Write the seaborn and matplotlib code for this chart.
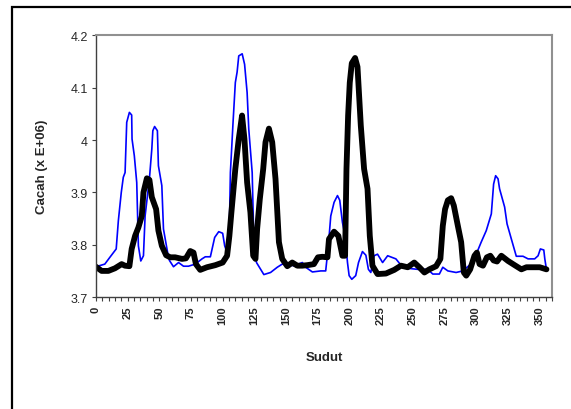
import pandas as pd
import numpy as np
import matplotlib
matplotlib.use("Agg")
import matplotlib.pyplot as plt
from matplotlib.patches import Rectangle
from matplotlib.ticker import MultipleLocator
import seaborn as sns

# Data (angle in degrees, count x 1e6)
sudut_biru = [0, 7, 11, 16, 17.7, 20, 21.6, 23, 24.3, 26.4, 28.2, 28.5, 30.3, 32.2, 33.5, 35.4,
              37.5, 38.8, 42.2, 44.1, 44.9, 46.3, 48.5, 49.3, 52, 53.3, 56.5, 58, 61.2, 65.2,
              69.1, 73, 78.4, 83.7, 86.3, 90.3, 93.7, 96.9, 100, 101.6, 103.5, 105, 106.1,
              108.2, 110, 111.4, 112.7, 115.4, 117.3, 119.3, 120.6, 123.3, 124.5, 126.7,
              132.5, 137.8, 143.1, 147, 156.3, 162.9, 165.5, 170.8, 177.4, 181.3, 183.4,
              185.3, 187.9, 190.6, 192.4, 194.5, 196.6, 198.5, 199.8, 201.9, 205, 207.2,
              210.3, 213, 215, 216.9, 219.5, 222.2, 226.2, 230.2, 236.7, 240.7, 246, 253.9,
              261.8, 265.8, 271, 273.7, 277.7, 284.2, 289.5, 294.8, 300.1, 304, 308, 312,
              313.8, 315.4, 317.3, 318.5, 322.5, 324.4, 327.8, 331.7, 337, 341, 346.2,
              348.9, 350.7, 353.4, 354.2, 355.5]
cacah_biru = [3.758, 3.763, 3.776, 3.792, 3.846, 3.900, 3.929, 3.938, 4.034, 4.053, 4.048, 4.002,
              3.970, 3.919, 3.798, 3.769, 3.779, 3.855, 3.926, 3.983, 4.018, 4.026, 4.018,
              3.951, 3.913, 3.830, 3.786, 3.770, 3.758, 3.766, 3.759, 3.759, 3.763, 3.773,
              3.777, 3.777, 3.814, 3.825, 3.822, 3.798, 3.785, 3.790, 3.938, 4.034, 4.110,
              4.130, 4.161, 4.165, 4.145, 4.091, 4.021, 3.938, 3.817, 3.766, 3.743, 3.747,
              3.757, 3.763, 3.760, 3.766, 3.757, 3.748, 3.750, 3.750, 3.798, 3.855, 3.881,
              3.894, 3.885, 3.843, 3.817, 3.766, 3.741, 3.734, 3.741, 3.766, 3.787, 3.780,
              3.753, 3.747, 3.779, 3.782, 3.766, 3.779, 3.773, 3.761, 3.755, 3.753, 3.753,
              3.744, 3.744, 3.757, 3.750, 3.747, 3.750, 3.761, 3.782, 3.805, 3.827, 3.859,
              3.916, 3.932, 3.926, 3.907, 3.872, 3.840, 3.811, 3.778, 3.778, 3.773, 3.773,
              3.779, 3.792, 3.790, 3.773, 3.753]

sudut_hitam = [0, 4.5, 9.8, 15, 20.3, 22.9, 26.4, 28.2, 30.9, 33.5, 36.2, 37.5, 40.2, 42.2, 44.1,
               47.5, 49.3, 52, 55.4, 58.6, 62.5, 67.9, 71, 74.4, 77, 78.9, 82.3, 87.6, 94.2,
               100, 103.5, 105.3, 106.9, 110, 112.7, 115.3, 117.2, 119.3, 121.9, 124.1,
               125.9, 127.2, 129.3, 132, 133.8, 136.5, 139.1, 141.7, 144.4, 147, 151, 154.9,
               158.9, 162.8, 166.8, 172, 175.2, 178.7, 182.7, 183.9, 187.9, 191.3, 194.5,
               196.6, 197.7, 199, 200.3, 201.9, 204.5, 206.4, 209, 211.6, 214.3, 216.1,
               218.2, 222.2, 228.8, 235.4, 240.7, 246, 251.2, 255.2, 259.2, 263.1, 268.4,
               271.8, 273.7, 275.5, 277.7, 280.3, 282.4, 285.6, 288.2, 290.3, 292.2, 295.3,
               298.7, 300.6, 302.7, 305.4, 308.5, 311.2, 313.8, 316.5, 319.9, 325.2, 330.4,
               335.7, 339.7, 344.9, 350.2, 355.5]
cacah_hitam = [3.758, 3.750, 3.750, 3.755, 3.763, 3.760, 3.759, 3.792, 3.817, 3.833, 3.855, 3.900,
               3.927, 3.924, 3.891, 3.868, 3.827, 3.798, 3.780, 3.776, 3.776, 3.773, 3.774,
               3.788, 3.785, 3.763, 3.752, 3.757, 3.761, 3.766, 3.779, 3.817, 3.862, 3.945,
               4.002, 4.047, 4.002, 3.919, 3.862, 3.779, 3.773, 3.830, 3.887, 3.945, 3.996,
               4.022, 3.996, 3.926, 3.805, 3.773, 3.759, 3.766, 3.760, 3.760, 3.761, 3.763,
               3.776, 3.777, 3.776, 3.811, 3.825, 3.817, 3.779, 3.779, 3.945, 4.047, 4.110,
               4.147, 4.157, 4.140, 4.028, 3.945, 3.907, 3.817, 3.760, 3.744, 3.745, 3.752,
               3.760, 3.757, 3.766, 3.757, 3.747, 3.753, 3.759, 3.773, 3.836, 3.868, 3.885,
               3.889, 3.875, 3.836, 3.805, 3.747, 3.741, 3.753, 3.779, 3.785, 3.763, 3.760,
               3.776, 3.779, 3.770, 3.768, 3.779, 3.769, 3.761, 3.753, 3.757, 3.757, 3.757,
               3.753]

x_ticks = list(range(0, 351, 25))

sns.set_style("white")
plt.rcParams["font.family"] = ["Liberation Sans", "DejaVu Sans"]

fig = plt.figure(figsize=(5.71, 4.10), dpi=100)
ax = fig.add_axes([0.168, 0.273, 0.799, 0.638])

df_biru = pd.DataFrame({"Sudut": sudut_biru, "Cacah": cacah_biru})
df_hitam = pd.DataFrame({"Sudut": sudut_hitam, "Cacah": cacah_hitam})
sns.lineplot(data=df_biru, x="Sudut", y="Cacah", color="#0000ff", linewidth=1.2, sort=False, ax=ax)
sns.lineplot(data=df_hitam, x="Sudut", y="Cacah", color="black", linewidth=4.2, sort=False, ax=ax,
             solid_joinstyle="round", solid_capstyle="round")

ax.set_xlim(0, 360)
ax.set_ylim(3.7, 4.2)
ax.set_xticks(x_ticks)
ax.set_xticklabels([str(t) for t in x_ticks], rotation=90, fontsize=8, fontweight="bold")
ax.xaxis.set_minor_locator(MultipleLocator(5))
ax.set_yticks([3.7, 3.8, 3.9, 4.0, 4.1, 4.2])
ax.set_yticklabels(["3.7", "3.8", "3.9", "4", "4.1", "4.2"], fontsize=9)
ax.tick_params(axis="x", which="both", direction="out", length=3, width=0.8,
               bottom=True, color="#404040", pad=3)
ax.tick_params(axis="y", which="major", direction="out", length=3, width=0.8,
               left=True, color="#404040", pad=3)

for side in ["left", "bottom"]:
    ax.spines[side].set_color("#404040")
    ax.spines[side].set_linewidth(1.0)
for side in ["top", "right"]:
    ax.spines[side].set_color("#909090")
    ax.spines[side].set_linewidth(1.5)

ax.set_xlabel("Sudut", fontsize=9.5, fontweight="bold")
ax.set_ylabel("Cacah (x E+06)", fontsize=9.5, fontweight="bold")
ax.xaxis.set_label_coords(0.5, -0.205)
ax.yaxis.set_label_coords(-0.105, 0.5)

# outer chart frame (right and bottom edges fall outside the picture)
fig.add_artist(Rectangle((12 / 571, -0.2), 1.2, 0.2 + (1 - 8 / 410), transform=fig.transFigure,
                         fill=False, edgecolor="black", linewidth=1.6))

fig.savefig("out.png", dpi=100)
